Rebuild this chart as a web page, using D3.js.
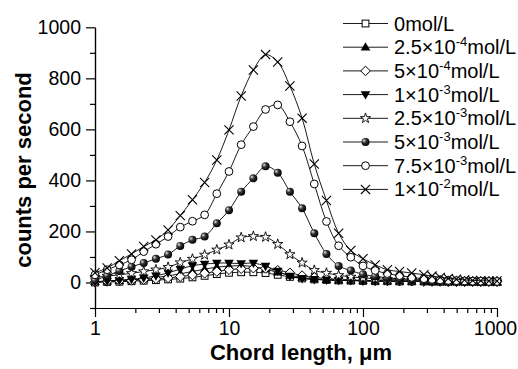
<!DOCTYPE html>
<html>
<head>
<meta charset="utf-8">
<script src="https://cdn.jsdelivr.net/npm/d3@7"></script>
<style>
  body { margin: 0; background: #fff; }
  svg { font-family: "Liberation Sans", Arial, sans-serif; }
  .axis path, .axis line { stroke: #000; stroke-width: 1.2; }
  .axis text { font-size: 19.5px; fill: #000; }
</style>
</head>
<body>
<script>
// chord length channels (um)
const chord = [1, 1.233, 1.52, 1.874, 2.31, 2.848, 3.511, 4.329, 5.337, 6.579, 8.111,
  10, 12.33, 15.2, 18.74, 23.1, 28.48, 35.11, 43.29, 53.37, 65.79, 81.11,
  100, 123.3, 152, 187.4, 231, 284.8, 327.5, 376.5, 432.9, 497.8, 572.4, 658.1, 756.7, 870.1, 1000];

const counts0      = [0, 2, 3, 5, 7, 9, 12, 15, 20, 26, 33, 38, 40, 40, 37, 30, 22, 16, 12, 10, 8, 7, 6, 5, 5, 4, 4, 4, 3, 3, 3, 3, 3, 3, 3, 3, 3];
const counts2p5e4  = [3, 5, 7, 10, 14, 19, 26, 34, 43, 52, 60, 64, 66, 62, 52, 40, 28, 20, 14, 11, 9, 8, 7, 6, 5, 5, 4, 4, 4, 3, 3, 3, 3, 3, 3, 3, 3];
const counts5e4    = [2, 4, 6, 8, 11, 14, 18, 23, 29, 36, 43, 50, 54, 56, 55, 48, 38, 27, 20, 15, 12, 10, 8, 7, 6, 5, 5, 4, 4, 4, 3, 3, 3, 3, 3, 3, 3];
const counts1e3    = [3, 6, 9, 13, 18, 26, 38, 52, 66, 72, 76, 76, 74, 76, 64, 45, 25, 16, 12, 10, 9, 8, 7, 6, 6, 5, 5, 4, 4, 4, 3, 3, 3, 3, 3, 3, 3];
const counts2p5e3  = [20, 25, 30, 36, 43, 50, 60, 78, 92, 108, 128, 148, 176, 181, 178, 150, 110, 77, 48, 37, 28, 22, 18, 15, 12, 10, 9, 8, 7, 6, 5, 5, 4, 4, 3, 3, 3];
const counts5e3    = [8, 26, 45, 62, 76, 93, 110, 143, 167, 180, 232, 283, 356, 408, 455, 430, 356, 291, 193, 112, 65, 47, 32, 24, 18, 14, 12, 10, 9, 8, 7, 6, 6, 5, 5, 4, 4];
const counts7p5e3  = [30, 50, 69, 89, 121, 150, 180, 217, 240, 265, 348, 435, 540, 611, 678, 696, 630, 535, 386, 239, 144, 99, 65, 47, 35, 27, 20, 15, 12, 10, 8, 7, 6, 5, 5, 4, 4];
const counts1e2    = [38, 57, 85, 112, 141, 167, 206, 262, 324, 392, 480, 598, 731, 833, 893, 864, 770, 644, 464, 321, 193, 125, 93, 69, 50, 43, 37, 30, 25, 20, 16, 13, 10, 8, 7, 6, 6];

// legend labels: [mantissa, exponent]
const labels = [["0", null], ["2.5×10", "-4"], ["5×10", "-4"], ["1×10", "-3"],
  ["2.5×10", "-3"], ["5×10", "-3"], ["7.5×10", "-3"], ["1×10", "-2"]];
const markers = ["square", "tri-up", "diamond", "tri-down", "star", "sphere", "circle", "cross"];
const allSeries = [counts0, counts2p5e4, counts5e4, counts1e3, counts2p5e3, counts5e3, counts7p5e3, counts1e2];

const yMajor = [0, 200, 400, 600, 800, 1000];
const yMinor = [-100, 100, 300, 500, 700, 900];
const xMajor = [1, 10, 100, 1000];

const w = 518, h = 369;
const svg = d3.select("body").append("svg")
  .attr("width", w).attr("height", h);

const defs = svg.append("defs");
const grad = defs.append("radialGradient").attr("id", "ball")
  .attr("cx", "40%").attr("cy", "40%").attr("r", "60%")
  .attr("fx", "30%").attr("fy", "30%");
grad.append("stop").attr("offset", "0%").attr("stop-color", "#e8e8e8");
grad.append("stop").attr("offset", "45%").attr("stop-color", "#333");
grad.append("stop").attr("offset", "100%").attr("stop-color", "#000");

const x = d3.scaleLog().domain([1, 1000]).range([95, 497]);
const y = d3.scaleLinear().domain([-100, 1000]).range([308, 27.3]);

// axes
const xMinorVals = [];
[1, 10, 100].forEach(d => { for (let k = 2; k < 10; k++) xMinorVals.push(d * k); });

svg.append("g").attr("class", "axis")
  .attr("transform", `translate(0,${y(-100)})`)
  .call(d3.axisBottom(x).tickValues(xMinorVals).tickSize(5).tickSizeOuter(0).tickFormat(""));
svg.append("g").attr("class", "axis")
  .attr("transform", `translate(0,${y(-100)})`)
  .call(d3.axisBottom(x).tickValues(xMajor).tickSize(9).tickSizeOuter(0).tickPadding(4)
    .tickFormat(d3.format("d")))
  .selectAll("text").filter(d => d === 1000).attr("dx", -2);

svg.append("g").attr("class", "axis")
  .attr("transform", `translate(${x(1)},0)`)
  .call(d3.axisLeft(y).tickValues(yMinor).tickSize(5).tickSizeOuter(0).tickFormat(""));
svg.append("g").attr("class", "axis")
  .attr("transform", `translate(${x(1)},0)`)
  .call(d3.axisLeft(y).tickValues(yMajor).tickSize(9).tickSizeOuter(0).tickPadding(5)
    .tickFormat(d3.format("d")));

svg.append("text")
  .attr("transform", `translate(31,170) rotate(-90)`)
  .attr("text-anchor", "middle")
  .style("font-size", "22px").style("font-weight", "bold")
  .text("counts per second");

svg.append("text")
  .attr("x", 301).attr("y", 360)
  .attr("text-anchor", "middle")
  .style("font-size", "22px").style("font-weight", "bold")
  .text("Chord length, μm");

// marker drawing
const drawMarker = (g, type) => {
  switch (type) {
    case "square":
      g.append("rect").attr("x", -3.4).attr("y", -3.4).attr("width", 6.8).attr("height", 6.8)
        .attr("fill", "#fff").attr("stroke", "#000").attr("stroke-width", 1);
      break;
    case "tri-up":
      g.append("path").attr("d", "M0,-5L4.8,3.3L-4.8,3.3Z").attr("fill", "#000");
      break;
    case "tri-down":
      g.append("path").attr("d", "M0,5L4.8,-3.3L-4.8,-3.3Z").attr("fill", "#000");
      break;
    case "diamond":
      g.append("path").attr("d", "M0,-4.8L4.8,0L0,4.8L-4.8,0Z")
        .attr("fill", "#fff").attr("stroke", "#000").attr("stroke-width", 1);
      break;
    case "star":
      g.append("path").attr("d", d3.symbol(d3.symbolStar, 32)())
        .attr("fill", "#fff").attr("stroke", "#000").attr("stroke-width", 0.9);
      break;
    case "sphere":
      g.append("circle").attr("r", 4).attr("fill", "url(#ball)");
      break;
    case "circle":
      g.append("circle").attr("r", 3.9)
        .attr("fill", "#fff").attr("stroke", "#000").attr("stroke-width", 1);
      break;
    case "cross":
      g.append("path").attr("d", "M-4.6,-4.6L4.6,4.6M-4.6,4.6L4.6,-4.6")
        .attr("fill", "none").attr("stroke", "#000").attr("stroke-width", 1.1);
      break;
  }
};

const line = d3.line()
  .x((d, i) => x(chord[i]))
  .y(d => y(d))
  .curve(d3.curveCatmullRom.alpha(0.5));

allSeries.forEach((s, k) => {
  svg.append("path")
    .attr("d", line(s))
    .attr("fill", "none")
    .attr("stroke", "#000")
    .attr("stroke-width", 0.9);
  svg.append("g").selectAll("g")
    .data(s)
    .join("g")
    .attr("transform", (d, i) => `translate(${x(chord[i])},${y(d)})`)
    .each(function() { drawMarker(d3.select(this), markers[k]); });
});

// legend
const legend = svg.append("g").attr("id", "legend");
labels.forEach((lab, k) => {
  const ly = 23.5 + k * 23.7;
  const row = legend.append("g").attr("transform", `translate(0,${ly})`);
  row.append("line").attr("x1", 343).attr("x2", 388).attr("y1", 0).attr("y2", 0)
    .attr("stroke", "#000").attr("stroke-width", 0.9);
  drawMarker(row.append("g").attr("transform", "translate(365.5,0)"), markers[k]);
  const t = row.append("text").attr("x", 394).attr("y", 7)
    .style("font-size", "20px");
  t.append("tspan").text(lab[0]);
  if (lab[1]) {
    t.append("tspan").attr("dy", -8).style("font-size", "13px").text(lab[1]);
    t.append("tspan").attr("dy", 8).text("mol/L");
  } else {
    t.append("tspan").text("mol/L");
  }
});
</script>
</body>
</html>
